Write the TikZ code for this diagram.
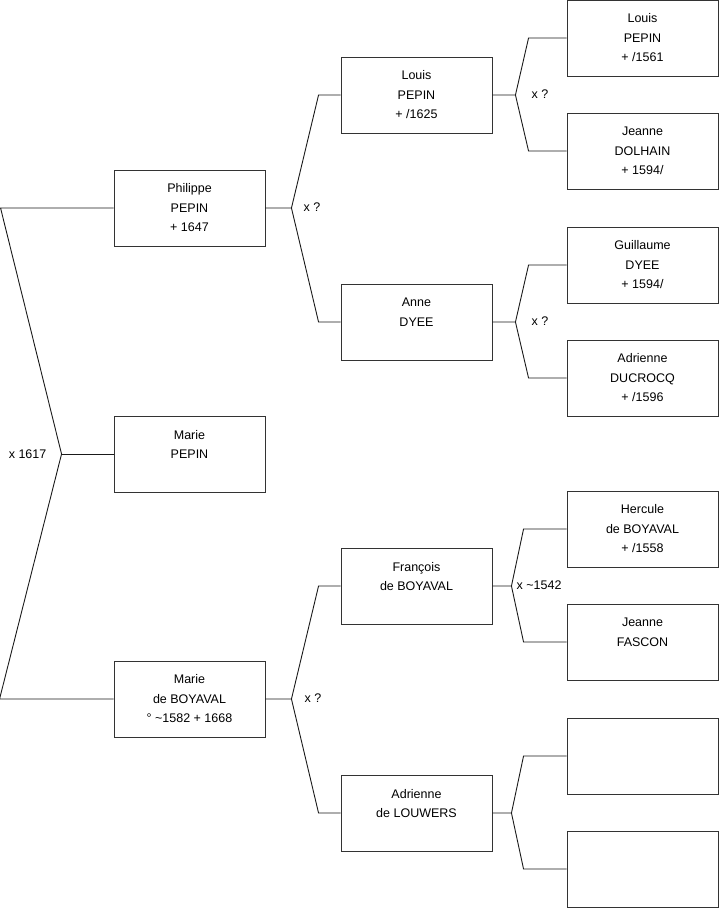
\documentclass[tikz,border=0pt]{standalone}
\usepackage{fontspec}
\setmainfont{Liberation Sans}
\usepackage{tikz}
\usetikzlibrary{calc}
\definecolor{Frame}{HTML}{333333}
\definecolor{Link}{HTML}{1A1A1A}

\begin{document}
\begin{tikzpicture}[x=1pt,y=-1pt, font=\fontsize{12.5}{19.5}\selectfont]
  \tikzset{person/.style={draw=Frame,line width=0.9pt,fill=white,minimum width=151pt,minimum height=76pt,align=center,inner sep=0pt},
           link/.style={draw=Link,line width=0.9pt},
           union/.style={inner sep=0pt,text=black}}
  \useasboundingbox (0,0) rectangle (719,908);
  % generation 1
  \node[person] (phil) at (189.5,208) {Philippe\\PEPIN\\+ 1647};
  \node[person] (marie) at (189.5,454) {Marie\\PEPIN\\\mbox{}};
  \node[person] (marieB) at (189.5,699) {Marie\\de BOYAVAL\\° \textasciitilde1582 + 1668};
  % generation 2
  \node[person] (louisP) at (416.5,95) {Louis\\PEPIN\\+ /1625};
  \node[person] (anne) at (416.5,322) {Anne\\DYEE\\\mbox{}};
  \node[person] (franc) at (416.5,586) {François\\de BOYAVAL\\\mbox{}};
  \node[person] (adrL) at (416.5,813) {Adrienne\\de LOUWERS\\\mbox{}};
  % generation 3
  \node[person] (louisG) at (642.5,38) {Louis\\PEPIN\\+ /1561};
  \node[person] (jeanneD) at (642.5,151) {Jeanne\\DOLHAIN\\+ 1594/};
  \node[person] (guil) at (642.5,265) {Guillaume\\DYEE\\+ 1594/};
  \node[person] (adrD) at (642.5,378) {Adrienne\\DUCROCQ\\+ /1596};
  \node[person] (herc) at (642.5,529) {Hercule\\de BOYAVAL\\+ /1558};
  \node[person] (jeanneF) at (642.5,642) {Jeanne\\FASCON\\\mbox{}};
  \node[person] (emptyA) at (642.5,756) {};
  \node[person] (emptyB) at (642.5,869) {};
  % parents of Marie
  \coordinate (j-marie) at ([xshift=-52pt]marie.west);
  \coordinate (top) at ([xshift=-113pt]phil.west);
  \coordinate (bot) at ([xshift=-114pt]marieB.west);
  \draw[link] (marie.west) -- (j-marie);
  \draw[link] (phil.west) -- (top) -- (j-marie) -- (bot) -- (marieB.west);
  \node[union,anchor=east] at ([xshift=-15pt]j-marie) {x 1617};
  % the other couples
  \foreach \c/\f/\m/\s/\t/\l/\d in {phil/louisP/anne/26/22/x ?/12,
                                     louisP/louisG/jeanneD/23/38/x ?/16,
                                     anne/guil/adrD/23/38/x ?/16,
                                     marieB/franc/adrL/26/22/x ?/13,
                                     franc/herc/jeanneF/19/43/x \textasciitilde1542/5,
                                     adrL/emptyA/emptyB/19/43//0}{
    \coordinate (j-\c) at ([xshift=\s pt]\c.east);
    \draw[link] (\c.east) -- (j-\c) -- ([xshift=-\t pt]\f.west) -- (\f.west);
    \draw[link] (j-\c) -- ([xshift=-\t pt]\m.west) -- (\m.west);
    \node[union,anchor=west] at ([xshift=\d pt,yshift=1pt]j-\c) {\l};
  }
\end{tikzpicture}
\end{document}
